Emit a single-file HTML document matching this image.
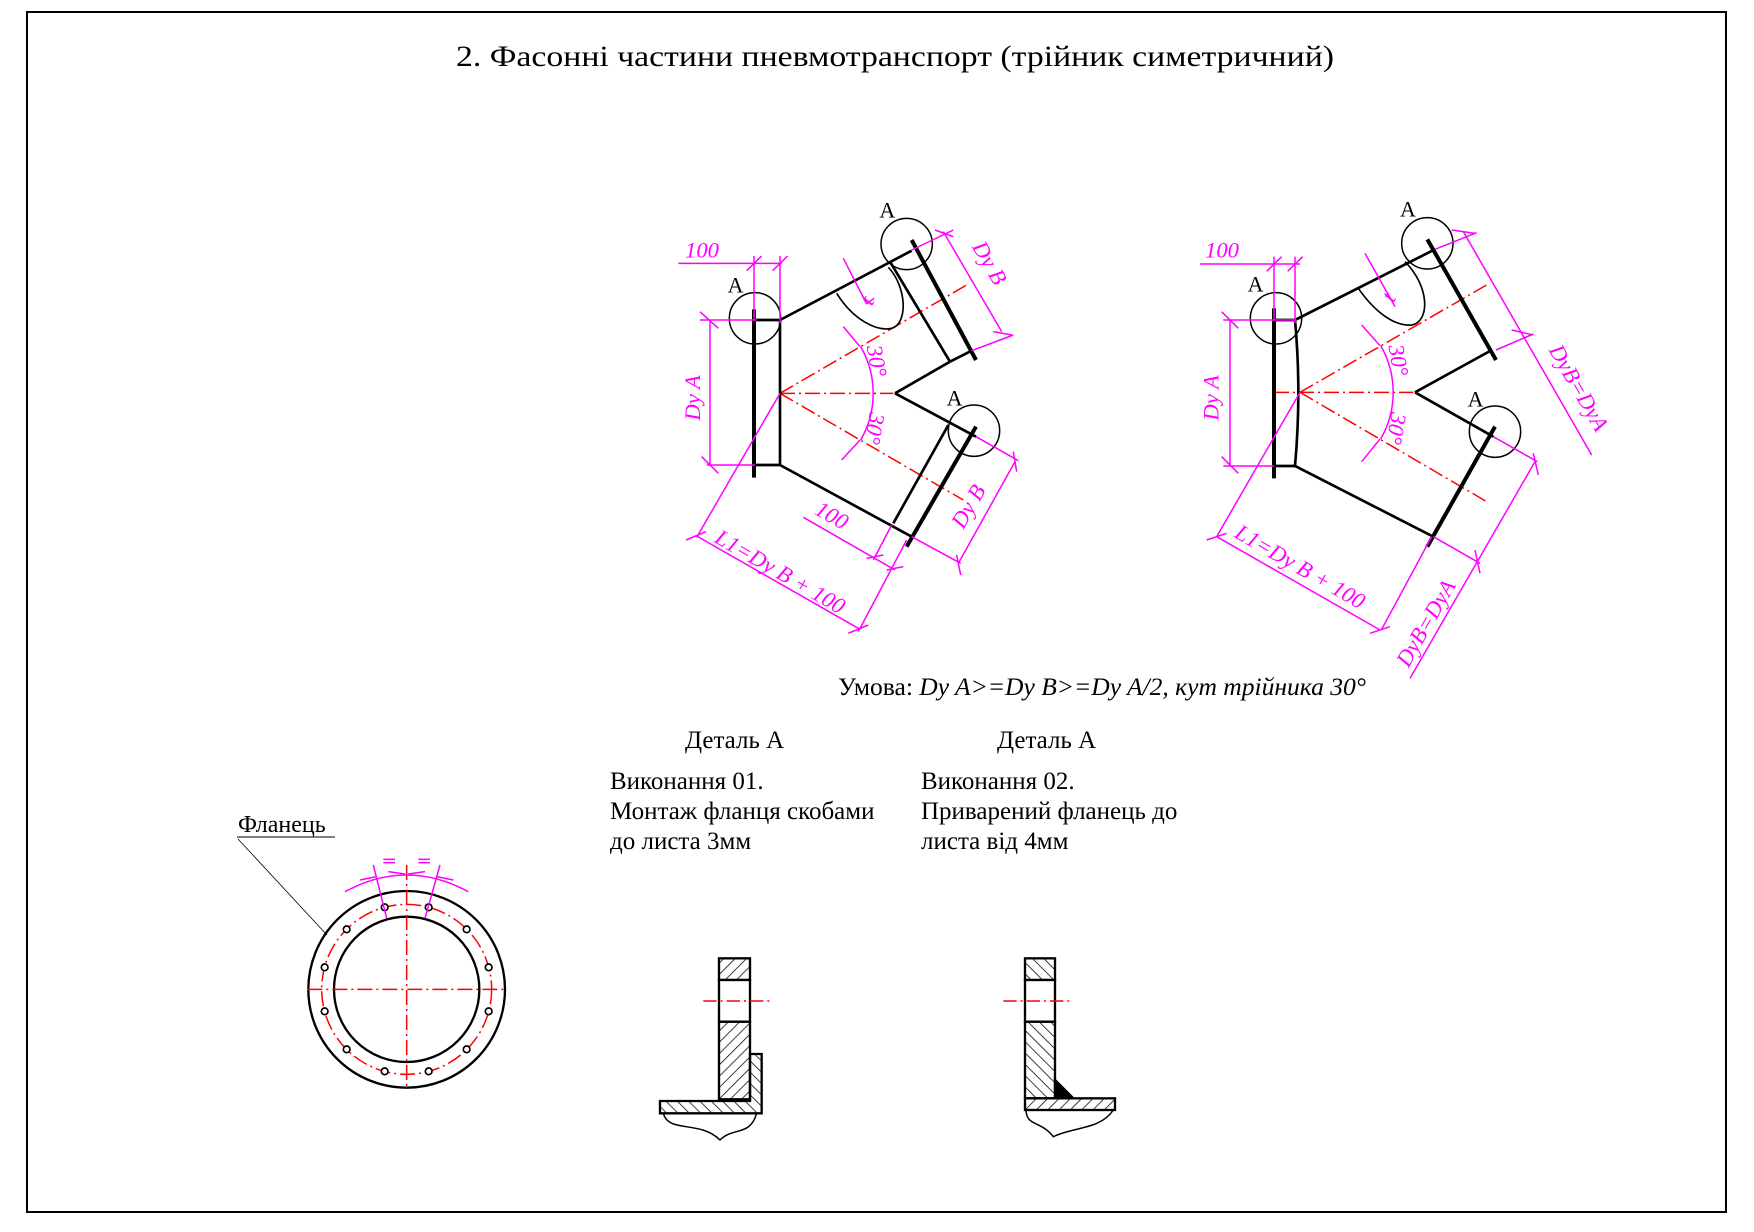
<!DOCTYPE html>
<html><head><meta charset="utf-8"><style>html,body{margin:0;padding:0;background:#fff}svg{display:block}</style></head>
<body>
<svg width="1754" height="1232" viewBox="0 0 1754 1232" xmlns="http://www.w3.org/2000/svg">
<defs>
<pattern id="h1" patternUnits="userSpaceOnUse" width="24" height="24" patternTransform="rotate(45)"><line x1="0" y1="0" x2="0" y2="24" stroke="#000" stroke-width="4.5"/></pattern>
<pattern id="h2" patternUnits="userSpaceOnUse" width="24" height="24" patternTransform="rotate(-45)"><line x1="0" y1="0" x2="0" y2="24" stroke="#000" stroke-width="4.5"/></pattern>
</defs>
<rect x="27" y="12" width="1699" height="1200" fill="none" stroke="#000" stroke-width="2"/>
<text x="456" y="66" font-family="Liberation Serif, serif" font-size="30" textLength="878" lengthAdjust="spacingAndGlyphs">2. Фасонні частини пневмотранспорт (трійник симетричний)</text>

<g font-family="Liberation Serif, serif" font-size="25">
<text x="838" y="695" textLength="528" lengthAdjust="spacingAndGlyphs">Умова: <tspan font-style="italic">Dy A&gt;=Dy B&gt;=Dy A/2, кут трійника  30°</tspan></text>
<text x="685" y="748">Деталь А</text>
<text x="997" y="748">Деталь А</text>
<text x="610" y="789">Виконання 01.</text>
<text x="610" y="819">Монтаж фланця скобами</text>
<text x="610" y="849">до листа 3мм</text>
<text x="921" y="789">Виконання 02.</text>
<text x="921" y="819">Приварений фланець до</text>
<text x="921" y="849">листа від 4мм</text>
<text x="238" y="832" font-size="24">Фланець</text>
</g>
<line x1="237" y1="837" x2="335" y2="837" stroke="#000" stroke-width="1"/>
<line x1="238" y1="839" x2="327" y2="935" stroke="#000" stroke-width="0.8"/>

<!-- LEFT DIAGRAM -->
<g transform="translate(600,180) scale(0.33333)" fill="none" stroke-linecap="butt">
 <g stroke="#ff0000" stroke-width="4.5" stroke-dasharray="45 12 6 12">
  <line x1="540" y1="640" x2="880" y2="640"/>
  <line x1="540" y1="640" x2="1100" y2="315"/>
  <line x1="540" y1="640" x2="1090" y2="960"/>
 </g>
 <g stroke="#000" stroke-width="12">
  <line x1="462" y1="388" x2="462" y2="893"/>
  <line x1="935" y1="180" x2="1128" y2="540"/>
  <line x1="1128" y1="740" x2="920" y2="1100"/>
 </g>
 <g stroke="#000" stroke-width="8">
  <line x1="540" y1="420" x2="540" y2="855"/>
  <line x1="462" y1="420" x2="540" y2="420"/>
  <line x1="462" y1="855" x2="540" y2="855"/>
  <line x1="540" y1="420" x2="935" y2="212"/>
  <line x1="870" y1="245" x2="1050" y2="545"/>
  <line x1="1050" y1="545" x2="1115" y2="512"/>
  <line x1="885" y1="640" x2="1050" y2="545"/>
  <line x1="885" y1="640" x2="1128" y2="770"/>
  <line x1="1045" y1="735" x2="880" y2="1030"/>
  <line x1="540" y1="855" x2="935" y2="1070"/>
 </g>
 <path d="M710,340 C760,420 830,455 875,445 C925,430 920,320 865,262" stroke="#000" stroke-width="5"/>
 <g stroke="#000" stroke-width="4.5">
  <circle cx="465" cy="415" r="77"/><circle cx="920" cy="192" r="77"/><circle cx="1122" cy="752" r="77"/>
 </g>
 <g font-family="Liberation Serif, serif" font-size="66" fill="#000">
  <text x="383" y="338">A</text><text x="838" y="112">A</text><text x="1040" y="676">A</text>
 </g>
 <g stroke="#ff00ff" stroke-width="4.5">
  <line x1="235" y1="250" x2="545" y2="250"/>
  <line x1="462" y1="228" x2="462" y2="420"/><line x1="540" y1="228" x2="540" y2="430"/>
  <line x1="440" y1="272" x2="485" y2="228"/><line x1="518" y1="272" x2="563" y2="228"/>
  <line x1="330" y1="420" x2="330" y2="855"/>
  <line x1="300" y1="420" x2="470" y2="420"/><line x1="320" y1="855" x2="465" y2="855"/>
  <line x1="300" y1="395" x2="355" y2="445"/><line x1="305" y1="830" x2="355" y2="880"/>
  <line x1="290" y1="1068" x2="780" y2="1348"/>
  <line x1="540" y1="640" x2="290" y2="1072"/>
  <line x1="920" y1="1080" x2="775" y2="1355"/>
  <line x1="258" y1="1080" x2="318" y2="1055"/><line x1="745" y1="1360" x2="805" y2="1335"/>
  <line x1="610" y1="1012" x2="885" y2="1170"/>
  <line x1="875" y1="1035" x2="820" y2="1140"/>
  <line x1="800" y1="1135" x2="850" y2="1125"/><line x1="860" y1="1170" x2="910" y2="1160"/>
  <line x1="1030" y1="155" x2="1205" y2="455"/>
  <line x1="935" y1="210" x2="1060" y2="150"/><line x1="1115" y1="512" x2="1240" y2="465"/>
  <line x1="1005" y1="150" x2="1060" y2="170"/><line x1="1180" y1="455" x2="1235" y2="465"/>
  <line x1="1245" y1="845" x2="1075" y2="1150"/>
  <line x1="1128" y1="770" x2="1255" y2="842"/><line x1="935" y1="1070" x2="1082" y2="1150"/>
  <line x1="1240" y1="815" x2="1250" y2="875"/><line x1="1070" y1="1125" x2="1082" y2="1185"/>
  <path d="M782,500 A280,280 0 0 1 782,780"/>
  <line x1="730" y1="440" x2="780" y2="500"/><line x1="725" y1="840" x2="780" y2="780"/>
  <line x1="730" y1="235" x2="800" y2="372"/>
  <line x1="800" y1="372" x2="822" y2="355"/>
 </g>
 <g font-family="Liberation Serif, serif" font-style="italic" font-size="68" fill="#ff00ff">
  <text x="255" y="232">100</text>
  <text transform="translate(300,722) rotate(-90)">Dy A</text>
  <text transform="translate(340,1085) rotate(30)">L1=Dy B + 100</text>
  <text transform="translate(640,1000) rotate(30)">100</text>
  <text transform="translate(1115,200) rotate(60)">Dy B</text>
  <text transform="translate(1090,1050) rotate(-60)">Dy B</text>
  <text transform="translate(800,500) rotate(80)">30°</text>
  <text transform="translate(810,695) rotate(100)">30°</text>
  <text transform="translate(815,380) rotate(-60)">t</text>
 </g>
</g>

<!-- RIGHT DIAGRAM -->
<g transform="translate(1200,190) scale(0.33333)" fill="none">
 <g stroke="#ff0000" stroke-width="4.5" stroke-dasharray="45 12 6 12">
  <line x1="222" y1="607" x2="640" y2="607"/>
  <line x1="300" y1="607" x2="860" y2="285"/>
  <line x1="300" y1="607" x2="860" y2="935"/>
 </g>
 <g stroke="#000" stroke-width="12">
  <line x1="222" y1="355" x2="222" y2="865"/>
  <line x1="682" y1="148" x2="888" y2="510"/>
  <line x1="885" y1="710" x2="682" y2="1070"/>
 </g>
 <g stroke="#000" stroke-width="8">
  <path d="M285,390 Q305,607 285,828"/>
  <line x1="222" y1="390" x2="285" y2="390"/>
  <line x1="222" y1="828" x2="285" y2="828"/>
  <line x1="285" y1="390" x2="705" y2="178"/>
  <line x1="645" y1="607" x2="870" y2="483"/>
  <line x1="645" y1="607" x2="880" y2="740"/>
  <line x1="285" y1="828" x2="700" y2="1040"/>
 </g>
 <path d="M475,295 C520,360 580,410 635,405 C690,395 690,290 615,215" stroke="#000" stroke-width="5"/>
 <g stroke="#000" stroke-width="4.5">
  <circle cx="228" cy="385" r="77"/><circle cx="682" cy="160" r="77"/><circle cx="885" cy="725" r="77"/>
 </g>
 <g font-family="Liberation Serif, serif" font-size="66" fill="#000">
  <text x="143" y="305">A</text><text x="600" y="80">A</text><text x="803" y="650">A</text>
 </g>
 <g stroke="#ff00ff" stroke-width="4.5">
  <line x1="0" y1="222" x2="300" y2="222"/>
  <line x1="222" y1="200" x2="222" y2="390"/><line x1="285" y1="200" x2="285" y2="400"/>
  <line x1="200" y1="244" x2="245" y2="200"/><line x1="263" y1="244" x2="308" y2="200"/>
  <line x1="90" y1="390" x2="90" y2="828"/>
  <line x1="70" y1="390" x2="290" y2="390"/><line x1="70" y1="828" x2="222" y2="828"/>
  <line x1="65" y1="365" x2="115" y2="415"/><line x1="65" y1="800" x2="115" y2="850"/>
  <line x1="50" y1="1040" x2="540" y2="1320"/>
  <line x1="300" y1="607" x2="50" y2="1040"/>
  <line x1="695" y1="1040" x2="545" y2="1318"/>
  <line x1="20" y1="1050" x2="80" y2="1030"/><line x1="510" y1="1330" x2="570" y2="1310"/>
  <line x1="790" y1="125" x2="1175" y2="795"/>
  <line x1="705" y1="178" x2="830" y2="128"/><line x1="888" y1="480" x2="1000" y2="432"/>
  <line x1="755" y1="120" x2="825" y2="130"/><line x1="935" y1="420" x2="1000" y2="435"/>
  <line x1="1005" y1="815" x2="630" y2="1465"/>
  <line x1="880" y1="740" x2="1012" y2="815"/><line x1="700" y1="1040" x2="840" y2="1120"/>
  <line x1="1000" y1="790" x2="1015" y2="855"/><line x1="825" y1="1080" x2="840" y2="1150"/>
  <path d="M542,467 A280,280 0 0 1 542,747"/>
  <line x1="485" y1="405" x2="540" y2="467"/><line x1="485" y1="815" x2="540" y2="747"/>
  <line x1="495" y1="190" x2="585" y2="350"/>
 </g>
 <g font-family="Liberation Serif, serif" font-style="italic" font-size="68" fill="#ff00ff">
  <text x="15" y="202">100</text>
  <text transform="translate(55,692) rotate(-90)">Dy A</text>
  <text transform="translate(100,1040) rotate(30)">L1=Dy B + 100</text>
  <text transform="translate(1045,480) rotate(60)">DyB=DyA</text>
  <text transform="translate(625,1435) rotate(-60)">DyB=DyA</text>
  <text transform="translate(565,468) rotate(80)">30°</text>
  <text transform="translate(575,665) rotate(100)">30°</text>
  <text transform="translate(580,340) rotate(-60)">t</text>
 </g>
</g>

<!-- FLANGE -->
<g transform="translate(220,800) scale(0.33333)" fill="none">
 <circle cx="560" cy="568" r="295" stroke="#000" stroke-width="7"/>
 <circle cx="560" cy="568" r="218" stroke="#000" stroke-width="7"/>
 <circle cx="560" cy="568" r="255" stroke="#ff0000" stroke-width="4.5" stroke-dasharray="45 12 6 12"/>
 <g stroke="#ff0000" stroke-width="4.5" stroke-dasharray="45 12 6 12">
  <line x1="262" y1="568" x2="858" y2="568"/>
  <line x1="560" y1="195" x2="560" y2="870"/>
 </g>
 <g stroke="#000" stroke-width="5" fill="#fff">
  <circle cx="494" cy="322" r="10"/><circle cx="626" cy="322" r="10"/>
  <circle cx="380" cy="388" r="10"/><circle cx="740" cy="388" r="10"/>
  <circle cx="314" cy="502" r="10"/><circle cx="806" cy="502" r="10"/>
  <circle cx="314" cy="634" r="10"/><circle cx="806" cy="634" r="10"/>
  <circle cx="380" cy="748" r="10"/><circle cx="740" cy="748" r="10"/>
  <circle cx="494" cy="814" r="10"/><circle cx="626" cy="814" r="10"/>
 </g>
 <g stroke="#ff00ff" stroke-width="4.5">
  <line x1="500" y1="355" x2="460" y2="195"/><line x1="615" y1="355" x2="660" y2="195"/>
  <path d="M375,275 Q560,175 745,275"/>
  <line x1="420" y1="240" x2="470" y2="230"/><line x1="505" y1="215" x2="555" y2="222"/>
  <line x1="565" y1="222" x2="615" y2="215"/><line x1="650" y1="230" x2="700" y2="240"/>
  <line x1="490" y1="178" x2="525" y2="178"/><line x1="490" y1="188" x2="525" y2="188"/>
  <line x1="595" y1="178" x2="630" y2="178"/><line x1="595" y1="188" x2="630" y2="188"/>
 </g>
</g>

<!-- DETAILS -->
<g transform="translate(640,940) scale(0.33333)" stroke="#000" stroke-width="7">
 <rect x="237" y="55" width="93" height="65" fill="url(#h1)"/>
 <rect x="237" y="120" width="93" height="125" fill="#fff"/>
 <rect x="237" y="245" width="93" height="235" fill="url(#h1)"/>
 <path d="M330,342 L365,342 L365,520 L60,520 L60,483 L330,483 Z" fill="url(#h2)"/>
 <line x1="240" y1="478" x2="330" y2="478"/>
 <path d="M70,520 C85,580 180,540 240,600 C280,560 330,590 350,520" fill="none" stroke-width="4.5"/>
 <line x1="190" y1="183" x2="395" y2="183" stroke="#ff0000" stroke-width="4.5" stroke-dasharray="40 12 6 12"/>

 <rect x="1155" y="55" width="90" height="65" fill="url(#h2)"/>
 <rect x="1155" y="120" width="90" height="125" fill="#fff"/>
 <rect x="1155" y="245" width="90" height="230" fill="url(#h2)"/>
 <path d="M1245,420 L1245,475 L1300,475 Z" fill="#000"/>
 <rect x="1155" y="475" width="270" height="35" fill="url(#h1)"/>
 <path d="M1158,510 C1160,560 1200,540 1240,590 C1300,560 1380,570 1420,510" fill="none" stroke-width="4.5"/>
 <line x1="1090" y1="183" x2="1300" y2="183" stroke="#ff0000" stroke-width="4.5" stroke-dasharray="40 12 6 12"/>
</g>
</svg>
</body></html>
